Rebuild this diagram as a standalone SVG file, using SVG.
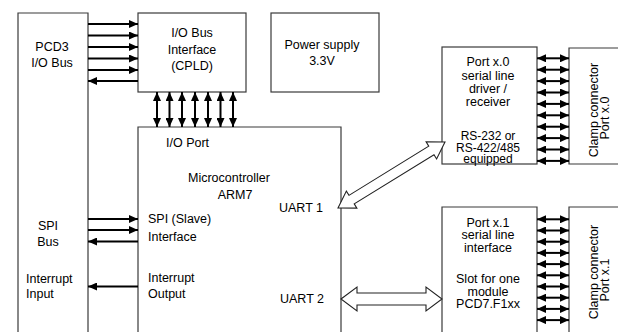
<svg xmlns="http://www.w3.org/2000/svg" width="618" height="332" viewBox="0 0 618 332">
<defs>
<marker id="ah" markerUnits="userSpaceOnUse" markerWidth="9" markerHeight="8" refX="9" refY="4" orient="auto-start-reverse" viewBox="0 0 9 8">
<path d="M0,0 L9,4 L0,8 z" fill="#000"/>
</marker>
<style>
.box{fill:#fff;stroke:#3a3a3a;stroke-width:1.2}
.t{font-family:"Liberation Sans",Arial,sans-serif;font-size:12.5px;fill:#000}
.s{font-size:12px}
.m{text-anchor:middle}
.w{stroke:#000;stroke-width:2;fill:none;marker-end:url(#ah)}
.d{stroke:#000;stroke-width:2;fill:none;marker-end:url(#ah);marker-start:url(#ah)}
.h{fill:#fff;stroke:#222;stroke-width:1.1;stroke-linejoin:miter}
</style>
</defs>
<rect width="618" height="332" fill="#fff"/>
<g id="pcd3">
<path class="box" d="M18,333 V13 H88 V333"/>
<text class="t m" x="52" y="50.5">PCD3</text>
<text class="t m" x="52" y="66.5">I/O Bus</text>
<text class="t m" x="48" y="229.5">SPI</text>
<text class="t m" x="48" y="246">Bus</text>
<text class="t" x="26" y="282.5">Interrupt</text>
<text class="t" x="26" y="297.5">Input</text>
</g>
<g id="cpld">
<rect class="box" x="138" y="13" width="108" height="79"/>
<text class="t m" x="192" y="36.5">I/O Bus</text>
<text class="t m" x="192" y="54">Interface</text>
<text class="t m" x="192" y="70">(CPLD)</text>
</g>
<g id="power">
<rect class="box" x="271" y="13" width="108" height="79"/>
<text class="t m" x="322" y="49">Power supply</text>
<text class="t m" x="322" y="65">3.3V</text>
</g>
<g id="micro">
<path class="box" d="M138,333 V127 H341 V333"/>
<text class="t" x="166" y="147">I/O Port</text>
<text class="t m" x="229" y="182">Microcontroller</text>
<text class="t m" x="235" y="199">ARM7</text>
<text class="t" x="148" y="223">SPI (Slave)</text>
<text class="t" x="148" y="240.5">Interface</text>
<text class="t" x="148" y="281.5">Interrupt</text>
<text class="t" x="148" y="298">Output</text>
<text class="t" x="279" y="211.5">UART 1</text>
<text class="t" x="280" y="303">UART 2</text>
</g>
<g id="port0">
<rect class="box" x="442" y="47" width="95" height="117"/>
<text class="t m" x="488" y="66">Port x.0</text>
<text class="t m" x="488" y="79.5">serial line</text>
<text class="t m" x="488" y="93">driver /</text>
<text class="t m" x="488" y="106">receiver</text>
<text class="t s m" x="488" y="139.5">RS-232 or</text>
<text class="t s m" x="488" y="151.5">RS-422/485</text>
<text class="t s m" x="488" y="162.5">equipped</text>
</g>
<g id="clamp0">
<path class="box" d="M619,48 H569 V164 H619"/>
<text class="t m" transform="translate(598,110) rotate(-90)">Clamp connector</text>
<text class="t m" transform="translate(609,118) rotate(-90)">Port x.0</text>
</g>
<g id="port1">
<path class="box" d="M442,333 V207 H537 V333"/>
<text class="t m" x="488" y="226.5">Port x.1</text>
<text class="t m" x="488" y="239">serial line</text>
<text class="t m" x="488" y="251.5">interface</text>
<text class="t m" x="488" y="283">Slot for one</text>
<text class="t m" x="488" y="295.5">module</text>
<text class="t m" x="488" y="308">PCD7.F1xx</text>
</g>
<g id="clamp1">
<path class="box" d="M619,207 H569 V333"/>
<text class="t m" transform="translate(598,272) rotate(-90)">Clamp connector</text>
<text class="t m" transform="translate(609,280) rotate(-90)">Port x.1</text>
</g>
<g id="connectors">
<line class="w" x1="88" y1="24" x2="138" y2="24"/>
<line class="w" x1="88" y1="35.5" x2="138" y2="35.5"/>
<line class="w" x1="88" y1="47" x2="138" y2="47"/>
<line class="w" x1="88" y1="58.5" x2="138" y2="58.5"/>
<line class="w" x1="88" y1="70" x2="138" y2="70"/>
<line class="w" x1="138" y1="81" x2="88" y2="81"/>
<line class="d" x1="157" y1="92" x2="157" y2="127"/>
<line class="d" x1="169.5" y1="92" x2="169.5" y2="127"/>
<line class="d" x1="182" y1="92" x2="182" y2="127"/>
<line class="d" x1="195" y1="92" x2="195" y2="127"/>
<line class="d" x1="208" y1="92" x2="208" y2="127"/>
<line class="d" x1="220.5" y1="92" x2="220.5" y2="127"/>
<line class="d" x1="233" y1="92" x2="233" y2="127"/>
<line class="w" x1="88" y1="219" x2="138" y2="219"/>
<line class="w" x1="88" y1="230" x2="138" y2="230"/>
<line class="w" x1="138" y1="241.5" x2="88" y2="241.5"/>
<line class="w" x1="138" y1="286.5" x2="88" y2="286.5"/>
<g id="bus0">
<line class="d" x1="537" y1="58.3" x2="569" y2="58.3"/>
<line class="d" x1="537" y1="69.7" x2="569" y2="69.7"/>
<line class="d" x1="537" y1="81.1" x2="569" y2="81.1"/>
<line class="d" x1="537" y1="92.5" x2="569" y2="92.5"/>
<line class="d" x1="537" y1="103.9" x2="569" y2="103.9"/>
<line class="d" x1="537" y1="115.3" x2="569" y2="115.3"/>
<line class="d" x1="537" y1="126.7" x2="569" y2="126.7"/>
<line class="d" x1="537" y1="138.1" x2="569" y2="138.1"/>
<line class="d" x1="537" y1="149.5" x2="569" y2="149.5"/>
<line class="d" x1="537" y1="160.9" x2="569" y2="160.9"/>
</g>
<g id="bus1">
<line class="d" x1="537" y1="219.3" x2="569" y2="219.3"/>
<line class="d" x1="537" y1="230.5" x2="569" y2="230.5"/>
<line class="d" x1="537" y1="241.7" x2="569" y2="241.7"/>
<line class="d" x1="537" y1="252.9" x2="569" y2="252.9"/>
<line class="d" x1="537" y1="264.1" x2="569" y2="264.1"/>
<line class="d" x1="537" y1="275.3" x2="569" y2="275.3"/>
<line class="d" x1="537" y1="286.5" x2="569" y2="286.5"/>
<line class="d" x1="537" y1="297.7" x2="569" y2="297.7"/>
<line class="d" x1="537" y1="308.9" x2="569" y2="308.9"/>
<line class="d" x1="537" y1="320.1" x2="569" y2="320.1"/>
</g>
<polygon class="h" transform="translate(338,208) rotate(-31.67)" points="0,0 16,-10 16,-5 109.7,-5 109.7,-10 125.7,0 109.7,10 109.7,5 16,5 16,10"/>
<polygon class="h" points="341,299 357,287 357,293 426,293 426,287 442,299 426,311 426,305 357,305 357,311"/>
</g>
</svg>
